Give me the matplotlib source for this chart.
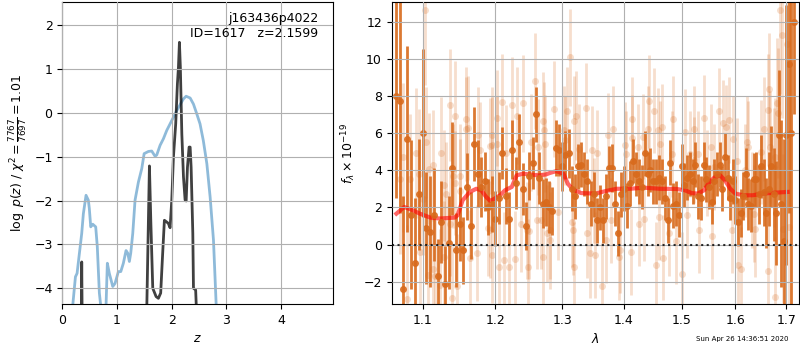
import matplotlib
matplotlib.use('Agg')
import matplotlib.pyplot as plt
from matplotlib.ticker import NullLocator, FixedFormatter

plt.rcParams['font.size'] = 9
plt.rcParams['axes.axisbelow'] = False

# left panel: chi2 curve (blue) and log p(z) (black)
chi2_z = [0.19, 0.24, 0.27, 0.355, 0.385, 0.434, 0.476, 0.494, 0.52, 0.557, 0.611, 0.64,
          0.678, 0.72, 0.78, 0.80, 0.824, 0.86, 0.923, 0.965, 1.026, 1.07, 1.117, 1.166,
          1.197, 1.227, 1.252, 1.289, 1.331, 1.392, 1.454, 1.497, 1.575, 1.636, 1.698,
          1.728, 1.789, 1.85, 1.911, 1.972, 2.033, 2.094, 2.156, 2.217, 2.265, 2.339,
          2.40, 2.46, 2.52, 2.58, 2.645, 2.705, 2.766, 2.815, 2.85]
chi2_v = [-4.4, -3.74, -3.66, -2.75, -2.30, -1.88, -1.99, -2.18, -2.6, -2.54, -2.6, -3.05,
          -4.11, -4.6, -4.6, -4.4, -3.43, -3.66, -3.96, -3.89, -3.62, -3.62, -3.43, -3.14,
          -3.2, -3.39, -3.2, -2.75, -1.99, -1.58, -1.27, -0.93, -0.88, -0.87, -0.99,
          -0.96, -0.74, -0.59, -0.40, -0.25, -0.10, 0.05, 0.19, 0.32, 0.38, 0.34,
          0.20, -0.02, -0.25, -0.63, -1.16, -1.92, -2.90, -4.36, -5.0]

pz_z = [0.30, 0.345, 0.355, 0.365, 0.45, 1.50, 1.545, 1.594, 1.62, 1.655, 1.716, 1.758,
        1.80, 1.83, 1.868, 1.911, 1.94, 1.972, 2.003, 2.033, 2.075, 2.106, 2.125, 2.143,
        2.16, 2.187, 2.217, 2.247, 2.266, 2.29, 2.32, 2.339, 2.357, 2.388, 2.40, 2.44,
        2.47, 2.55]
pz_v = [-9, -5, -3.4, -5, -9, -9, -4.5, -1.21, -2.5, -4.0, -4.19, -4.23,
        -4.11, -3.36, -2.45, -2.49, -2.52, -2.62, -1.99, -1.01, -0.25, 0.66, 1.04, 1.61,
        1.04, -0.48, -1.46, -1.99, -2.01, -1.24, -0.78, -0.78, -1.24, -2.75, -4.0, -4.04,
        -5, -9]

# right panel: binned spectrum (dark)
bin_wave = [1.065, 1.070, 1.075, 1.080, 1.085, 1.090, 1.095, 1.100, 1.105, 1.110, 1.115,
            1.120, 1.125, 1.130, 1.135, 1.140, 1.145, 1.150, 1.155, 1.160, 1.165, 1.170,
            1.175, 1.180, 1.185, 1.190, 1.195, 1.200, 1.205, 1.210, 1.215, 1.220, 1.225,
            1.230, 1.235, 1.240, 1.245, 1.250, 1.255, 1.260, 1.265, 1.270, 1.275, 1.280,
            1.285, 1.290, 1.295, 1.300, 1.305, 1.310, 1.315, 1.320, 1.325, 1.330, 1.335,
            1.340, 1.345, 1.350, 1.355, 1.360, 1.365, 1.370, 1.375, 1.380, 1.385, 1.390,
            1.395, 1.400, 1.405, 1.410, 1.415, 1.420, 1.425, 1.430, 1.435, 1.440, 1.445,
            1.450, 1.455, 1.460, 1.465, 1.470, 1.475, 1.480, 1.485, 1.490, 1.495, 1.500,
            1.505, 1.510, 1.515, 1.520, 1.525, 1.530, 1.535, 1.540, 1.545, 1.550, 1.555,
            1.560, 1.565, 1.570, 1.575, 1.580, 1.585, 1.590, 1.595, 1.600, 1.605, 1.610,
            1.615, 1.620, 1.625, 1.630, 1.635, 1.640, 1.645, 1.650, 1.655, 1.660, 1.665,
            1.670, 1.675, 1.680, 1.685, 1.690, 1.695, 1.700, 1.705, 1.710, 1.717]
bin_flux = [8.0, 7.7, -2.4, 5.7, 1.6, -1.0, 2.7, 6.0, 0.9, 0.7, 1.6,
            -1.7, 1.2, -2.1, 0.1, 4.1, -0.3, 1.1, -0.3, 3.1, 1.0, 5.4,
            3.8, 3.1, 3.4, 2.0, 2.2, 1.4, 2.5, 4.9, 2.6, 1.4, 5.1,
            3.3, 5.5, 3.0, 1.0, 3.7, 4.4, 7.0, 3.6, 2.2, 2.3, 2.0,
            1.8, 5.2, 5.1, 4.2, 4.8, 4.9, 3.0, 2.6, 4.2, 4.3, 3.8,
            3.4, 2.2, 2.7, 1.3, 2.0, 1.3, 2.6, 4.1, 4.1, 2.2, 0.6,
            2.7, 3.0, 2.1, 3.3, 4.5, 3.8, 3.4, 3.1, 4.9, 3.8, 4.0,
            3.4, 3.4, 3.6, 3.4, 2.5, 1.3, 4.4, 2.1, 2.2, 1.6, 4.2,
            3.2, 3.6, 3.8, 3.4, 4.3, 2.6, 2.5, 4.3, 3.5, 3.1, 2.3,
            3.4, 3.8, 4.3, 3.0, 4.7, 3.6, 2.5, 3.4, 2.4, 1.2, 1.7,
            2.6, 3.8, 2.2, 2.1, 3.5, 3.5, 2.7, 4.2, 2.8, 1.7, 3.0,
            4.2, 2.7, 1.7, 5.9, 2.2, 0.2, 5.9, 9.7, 6.0, 12.0]
bin_err = [5.5, 6.0, 5.0, 5.0, 4.0, 3.5, 3.0, 4.5, 3.0, 3.0, 2.5,
           2.0, 2.2, 2.0, 2.5, 2.5, 2.0, 2.0, 1.8, 1.8, 1.8, 2.0,
           1.8, 1.6, 1.6, 1.5, 1.5, 1.5, 1.4, 1.4, 1.5, 1.4, 1.6,
           1.4, 1.5, 1.4, 1.3, 1.3, 1.4, 1.5, 1.4, 1.3, 1.3, 1.4,
           1.3, 1.5, 1.4, 1.3, 1.3, 1.3, 1.2, 1.2, 1.2, 1.2, 1.2,
           1.2, 1.2, 1.2, 1.2, 1.2, 1.2, 1.2, 1.2, 1.3, 1.2, 1.2,
           1.2, 1.2, 1.2, 1.2, 1.2, 1.2, 1.2, 1.2, 1.2, 1.2, 1.2,
           1.2, 1.2, 1.2, 1.2, 1.2, 1.2, 1.2, 1.2, 1.2, 1.2, 1.2,
           1.2, 1.2, 1.2, 1.2, 1.2, 1.2, 1.2, 1.2, 1.2, 1.2, 1.2,
           1.2, 1.2, 1.2, 1.2, 1.3, 1.2, 1.2, 1.2, 1.3, 1.3, 1.3,
           1.3, 1.4, 1.4, 1.4, 1.4, 1.5, 1.6, 1.7, 1.8, 1.9, 2.0,
           2.2, 2.5, 2.8, 3.5, 4.5, 5.5, 7.0, 8.0, 12.0, 5.0]

# right panel: individual pixels (light)
pix_wave = [1.070, 1.075, 1.079, 1.084, 1.091, 1.095, 1.096, 1.101, 1.103, 1.105, 1.107,
            1.108, 1.114, 1.114, 1.116, 1.123, 1.125, 1.128, 1.128, 1.131, 1.137, 1.137,
            1.139, 1.141, 1.144, 1.144, 1.146, 1.150, 1.151, 1.158, 1.159, 1.162, 1.164,
            1.174, 1.176, 1.178, 1.190, 1.192, 1.193, 1.195, 1.195, 1.196, 1.202, 1.203,
            1.205, 1.209, 1.212, 1.215, 1.220, 1.225, 1.228, 1.231, 1.238, 1.241, 1.246,
            1.248, 1.250, 1.253, 1.259, 1.261, 1.263, 1.268, 1.270, 1.271, 1.272, 1.273,
            1.277, 1.281, 1.282, 1.288, 1.294, 1.303, 1.305, 1.308, 1.312, 1.315, 1.317,
            1.318, 1.319, 1.322, 1.327, 1.337, 1.340, 1.344, 1.347, 1.350, 1.352, 1.355,
            1.363, 1.370, 1.374, 1.379, 1.382, 1.392, 1.394, 1.402, 1.404, 1.411, 1.413,
            1.414, 1.424, 1.426, 1.433, 1.434, 1.440, 1.442, 1.451, 1.455, 1.459, 1.460,
            1.462, 1.465, 1.467, 1.478, 1.482, 1.484, 1.490, 1.500, 1.506, 1.509, 1.515,
            1.522, 1.523, 1.529, 1.532, 1.541, 1.546, 1.554, 1.556, 1.559, 1.568, 1.576,
            1.581, 1.587, 1.593, 1.595, 1.603, 1.605, 1.610, 1.618, 1.622, 1.624, 1.632,
            1.635, 1.638, 1.649, 1.655, 1.663, 1.664, 1.665, 1.668, 1.675, 1.678, 1.678,
            1.682, 1.683, 1.687, 1.692, 1.694, 1.701, 1.705]
pix_flux = [3.5, 4.7, -2.95, 3.54, 4.94, 3.8, -0.4, 2.43, 12.6, 5.5, -1.65,
            4.08, 4.26, -1.34, -1.7, -2.18, 4.94, 3.18, -0.66, 2.74, 1.13, 7.5,
            -2.9, 3.7, 6.9, 3.33, -2.24, 2.86, 3.68, 6.2, 6.75, 6.26, -0.75,
            -0.45, 5.87, 5.06, 0.9, 0.8, 5.3, 5.87, -0.57, 5.33, 5.4, 6.8,
            -1.2, 7.65, -0.84, 4.9, -1.2, 7.5, -0.8, 6.94, 1.13, 7.6, 0.77,
            -1.2, 0.73, 5.5, 8.8, 1.3, 5.24, 1.3, -0.66, 6.67, 6.14, 5.42,
            0.6, 0.77, 0.23, 7.3, 1.75, 6.14, 5.6, 7.16, 10.07, 1.2, 0.77,
            6.67, -1.2, 6.94, 5.15, 7.35, 0.6, -0.48, 5.06, 2.38, -0.57, 4.92,
            -2.24, 0.23, 5.87, 1.3, 6.23, -0.66, -0.3, 5.38, 4.88, -0.4, 5.74,
            6.73, 5.24, 1.13, 5.8, 1.4, 6.23, 7.7, 7.2, -1.1, 6.14, 1.48,
            5.42, 6.35, -0.7, 0.6, 4.88, 6.76, 0.2, -1.6, 6.05, 1.57, 4.88,
            6.23, 4.56, 4.88, 0.77, 6.8, 3.85, 5.24, 0.45, 4.17, 7.2, 6.53,
            6.3, 6.7, 0.77, 5.7, 4.5, -1.1, -1.34, 3.99, 5.5, 5.24, 2.4,
            1.66, 0.86, 4.97, 6.23, -1.4, 7.24, 8.37, 5.24, 4.13, 4.7, -2.8,
            7.6, 7.07, 12.6, 11.3, 0.86, 10.8, 0.95]
pix_err = [4.0, 4.0, 4.0, 3.5, 3.5, 3.5, 3.0, 3.0, 4.0, 3.0, 3.0,
           3.0, 3.0, 3.0, 3.0, 3.0, 3.0, 3.0, 3.0, 2.8, 2.8, 3.0,
           2.8, 2.8, 3.0, 2.8, 2.8, 2.8, 2.8, 2.8, 2.8, 2.8, 2.6,
           2.6, 2.6, 2.6, 2.6, 2.6, 2.6, 2.6, 2.6, 2.6, 2.6, 2.6,
           2.6, 2.6, 2.6, 2.6, 2.6, 2.6, 2.6, 2.6, 2.6, 2.6, 2.6,
           2.6, 2.6, 2.6, 2.6, 2.6, 2.6, 2.6, 2.6, 2.6, 2.6, 2.6,
           2.6, 2.6, 2.6, 2.6, 2.6, 2.4, 2.4, 2.4, 2.6, 2.4, 2.4,
           2.4, 2.4, 2.4, 2.4, 2.4, 2.4, 2.4, 2.4, 2.3, 2.3, 2.3,
           2.3, 2.3, 2.3, 2.3, 2.3, 2.3, 2.3, 2.3, 2.3, 2.3, 2.3,
           2.3, 2.3, 2.3, 2.3, 2.3, 2.3, 2.5, 2.3, 2.3, 2.3, 2.3,
           2.3, 2.3, 2.3, 2.3, 2.3, 2.3, 2.3, 2.3, 2.3, 2.3, 2.3,
           2.3, 2.3, 2.3, 2.3, 2.3, 2.3, 2.3, 2.3, 2.3, 2.3, 2.3,
           2.3, 2.3, 2.3, 2.3, 2.3, 2.3, 2.3, 2.5, 2.5, 2.5, 2.6,
           2.6, 2.6, 2.8, 2.8, 3.0, 3.0, 3.0, 3.0, 3.2, 3.2, 3.2,
           3.5, 3.5, 4.5, 4.5, 4.0, 5.0, 5.0]

# model
model_wave = [1.066, 1.076, 1.085, 1.0965, 1.11, 1.123, 1.143, 1.147, 1.154, 1.164, 1.173,
              1.180, 1.187, 1.193, 1.199, 1.207, 1.214, 1.224, 1.231, 1.240, 1.251, 1.264,
              1.275, 1.281, 1.291, 1.302, 1.309, 1.317, 1.33, 1.353, 1.370, 1.388, 1.41,
              1.433, 1.462, 1.491, 1.506, 1.518, 1.529, 1.541, 1.551, 1.561, 1.571, 1.58,
              1.59, 1.60, 1.615, 1.633, 1.652, 1.677, 1.703]
model_flux = [1.66, 2.02, 1.88, 1.66, 1.45, 1.4, 1.45, 1.57, 2.38, 2.83, 3.0,
              2.92, 2.56, 2.34, 2.47, 2.65, 2.92, 3.1, 3.72, 3.81, 3.77, 3.72,
              3.77, 3.85, 3.95, 3.81, 3.27, 2.95, 2.77, 2.74, 2.88, 3.0, 3.0,
              3.06, 3.0, 2.99, 2.92, 2.77, 2.74, 2.92, 3.36, 3.63, 3.72, 3.45,
              3.0, 2.74, 2.65, 2.65, 2.74, 2.79, 2.83]

wave_ticks = [1.1, 1.2, 1.3, 1.4, 1.5, 1.6, 1.7]
orange = '#d86a1c'

fig = plt.figure(figsize=(8, 3.5), dpi=100)
ax1 = fig.add_axes([0.0779, 0.1314, 0.3388, 0.8629])
ax2 = fig.add_axes([0.4896, 0.1314, 0.5095, 0.8629])

ax1.plot(chi2_z, chi2_v, color='C0', alpha=0.5, lw=2)
ax1.plot(pz_z, pz_v, color='k', alpha=0.75, lw=2)
ax1.set_xlim(0, 4.96)
ax1.set_ylim(-4.36, 2.53)
ax1.set_xticks([0, 1, 2, 3, 4])
ax1.grid(True)
ax1.set_xlabel('$z$')
ax1.set_ylabel(r'$\log\ p(z)$ / $\chi^2=\frac{7767}{7697}=1.01$')
ax1.text(0.944, 0.967, 'j163436p4022\nID=1617   z=2.1599', transform=ax1.transAxes,
         ha='right', va='top', fontsize=9)

ax2.errorbar(pix_wave, pix_flux, yerr=pix_err, fmt='o', color=orange, alpha=0.22,
             ms=5, elinewidth=2, markeredgecolor='none')
ax2.errorbar(bin_wave, bin_flux, yerr=bin_err, fmt='o', color=orange, alpha=0.9,
             ms=5, elinewidth=2, markeredgecolor='none')
ax2.plot(model_wave, model_flux, color='r', alpha=0.6, lw=3)
ax2.axhline(0, color='k', ls=':', lw=1.5, alpha=0.8, zorder=4)
ax2.set_xscale('log')
ax2.xaxis.set_minor_locator(NullLocator())
ax2.set_xticks(wave_ticks)
ax2.xaxis.set_major_formatter(FixedFormatter([str(w) for w in wave_ticks]))
ax2.set_xlim(1.06, 1.727)
ax2.set_ylim(-3.2, 13.05)
ax2.set_yticks([-2, 0, 2, 4, 6, 8, 10, 12])
ax2.grid(True)
ax2.set_xlabel(r'$\lambda$')
ax2.set_ylabel(r'$f_\lambda \times 10^{-19}$')

fig.text(0.985, 0.027, 'Sun Apr 26 14:36:51 2020', ha='right', fontsize=5)

fig.savefig('out.png', dpi=100)
